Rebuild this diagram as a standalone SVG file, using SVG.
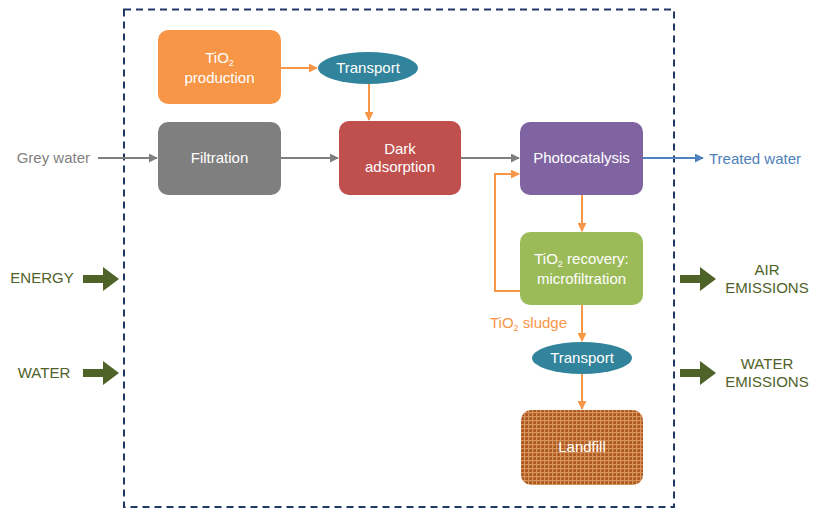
<svg xmlns="http://www.w3.org/2000/svg" width="813" height="511" viewBox="0 0 813 511">
<defs>
<style>
.box text, .ell text { font-family: "Liberation Sans", Arial, sans-serif; font-size: 15px; fill: #ffffff; text-anchor: middle; }
.lbl { font-family: "Liberation Sans", Arial, sans-serif; font-size: 15px; }
.io { fill: #4f6228; text-anchor: middle; }
.gray { stroke: #7f7f7f; stroke-width: 2; fill: none; }
.orange { stroke: #f79646; stroke-width: 2; fill: none; }
.blue { stroke: #4f81bd; stroke-width: 2; fill: none; }
.big { fill: #4f6228; }
</style>
<marker id="ag" viewBox="0 0 10 10" refX="9" refY="5" markerWidth="4.5" markerHeight="4.5" orient="auto"><path d="M0,0 L10,5 L0,10 z" fill="#7f7f7f"/></marker>
<marker id="ao" viewBox="0 0 10 10" refX="9" refY="5" markerWidth="4.5" markerHeight="4.5" orient="auto"><path d="M0,0 L10,5 L0,10 z" fill="#f79646"/></marker>
<marker id="ab" viewBox="0 0 10 10" refX="9" refY="5" markerWidth="4.5" markerHeight="4.5" orient="auto"><path d="M0,0 L10,5 L0,10 z" fill="#4f81bd"/></marker>
<pattern id="hatch" width="4" height="4" patternUnits="userSpaceOnUse">
<rect width="4" height="4" fill="#ab5820"/>
<rect x="0" y="0" width="1.2" height="4" fill="#d7955c"/>
<rect x="0" y="0" width="4" height="1.2" fill="#d7955c"/>
</pattern>
<symbol id="bigarrow" viewBox="0 0 36 24" overflow="visible"><path d="M0,8 L20,8 L20,0 L36,12 L20,24 L20,16 L0,16 z"/></symbol>
</defs>
<rect width="813" height="511" fill="#ffffff"/>
<rect id="boundary" x="124" y="9.5" width="550" height="497.5" fill="none" stroke="#1f3864" stroke-width="2" stroke-dasharray="7,5"/>

<g id="connectors">
<line class="gray" x1="98" y1="158" x2="157" y2="158" marker-end="url(#ag)"/>
<line class="gray" x1="281" y1="158" x2="338" y2="158" marker-end="url(#ag)"/>
<line class="gray" x1="461" y1="158" x2="519" y2="158" marker-end="url(#ag)"/>
<line class="blue" x1="643" y1="158" x2="703" y2="158" marker-end="url(#ab)"/>
<line class="orange" x1="281" y1="68" x2="317" y2="68" marker-end="url(#ao)"/>
<line class="orange" x1="369" y1="84" x2="369" y2="120" marker-end="url(#ao)"/>
<line class="orange" x1="582" y1="195" x2="582" y2="231" marker-end="url(#ao)"/>
<polyline class="orange" points="520,291 495,291 495,174 519,174" marker-end="url(#ao)"/>
<line class="orange" x1="582" y1="305" x2="582" y2="341" marker-end="url(#ao)"/>
<line class="orange" x1="582" y1="374" x2="582" y2="409" marker-end="url(#ao)"/>
<g class="big">
<use href="#bigarrow" x="83" y="267" width="36" height="24"/>
<use href="#bigarrow" x="83" y="361" width="36" height="24"/>
<use href="#bigarrow" x="680" y="267" width="36" height="24"/>
<use href="#bigarrow" x="680" y="361" width="36" height="24"/>
</g>
</g>

<g id="tio2-production" class="box">
<rect x="158" y="30" width="123" height="74" rx="10" fill="#f79646"/>
<text x="219.5" y="63">TiO<tspan font-size="9" dy="3">2</tspan></text>
<text x="219.5" y="83">production</text>
</g>
<g id="transport1" class="ell">
<ellipse cx="368" cy="68" rx="50" ry="16" fill="#31849b"/>
<text x="368" y="73">Transport</text>
</g>
<g id="filtration" class="box">
<rect x="158" y="122" width="123" height="73" rx="10" fill="#7f7f7f"/>
<text x="219.5" y="163">Filtration</text>
</g>
<g id="dark-adsorption" class="box">
<rect x="339" y="121" width="122" height="74" rx="10" fill="#c0504d"/>
<text x="400" y="154">Dark</text>
<text x="400" y="172">adsorption</text>
</g>
<g id="photocatalysis" class="box">
<rect x="520" y="122" width="123" height="73" rx="10" fill="#8064a2"/>
<text x="581.5" y="163">Photocatalysis</text>
</g>
<g id="tio2-recovery" class="box">
<rect x="520" y="232" width="123" height="73" rx="10" fill="#9bbb59"/>
<text x="581.5" y="264">TiO<tspan font-size="9" dy="3">2</tspan><tspan dy="-3"> recovery:</tspan></text>
<text x="581.5" y="284">microfiltration</text>
</g>
<g id="transport2" class="ell">
<ellipse cx="582" cy="358" rx="50" ry="16" fill="#31849b"/>
<text x="582" y="363">Transport</text>
</g>
<g id="landfill" class="box">
<rect x="521" y="410" width="122" height="75" rx="10" fill="url(#hatch)"/>
<text x="582" y="452">Landfill</text>
</g>

<g id="labels">
<text class="lbl" x="90" y="163" fill="#7f7f7f" text-anchor="end">Grey water</text>
<text class="lbl" x="709" y="164" fill="#4f81bd">Treated water</text>
<text class="lbl" x="490" y="328" fill="#f79646">TiO<tspan font-size="9" dy="3">2</tspan><tspan dy="-3"> sludge</tspan></text>
<text class="lbl io" x="42" y="283">ENERGY</text>
<text class="lbl io" x="44" y="378">WATER</text>
<text class="lbl io" x="767" y="275">AIR</text>
<text class="lbl io" x="767" y="293">EMISSIONS</text>
<text class="lbl io" x="767" y="369">WATER</text>
<text class="lbl io" x="767" y="387">EMISSIONS</text>
</g>
</svg>
